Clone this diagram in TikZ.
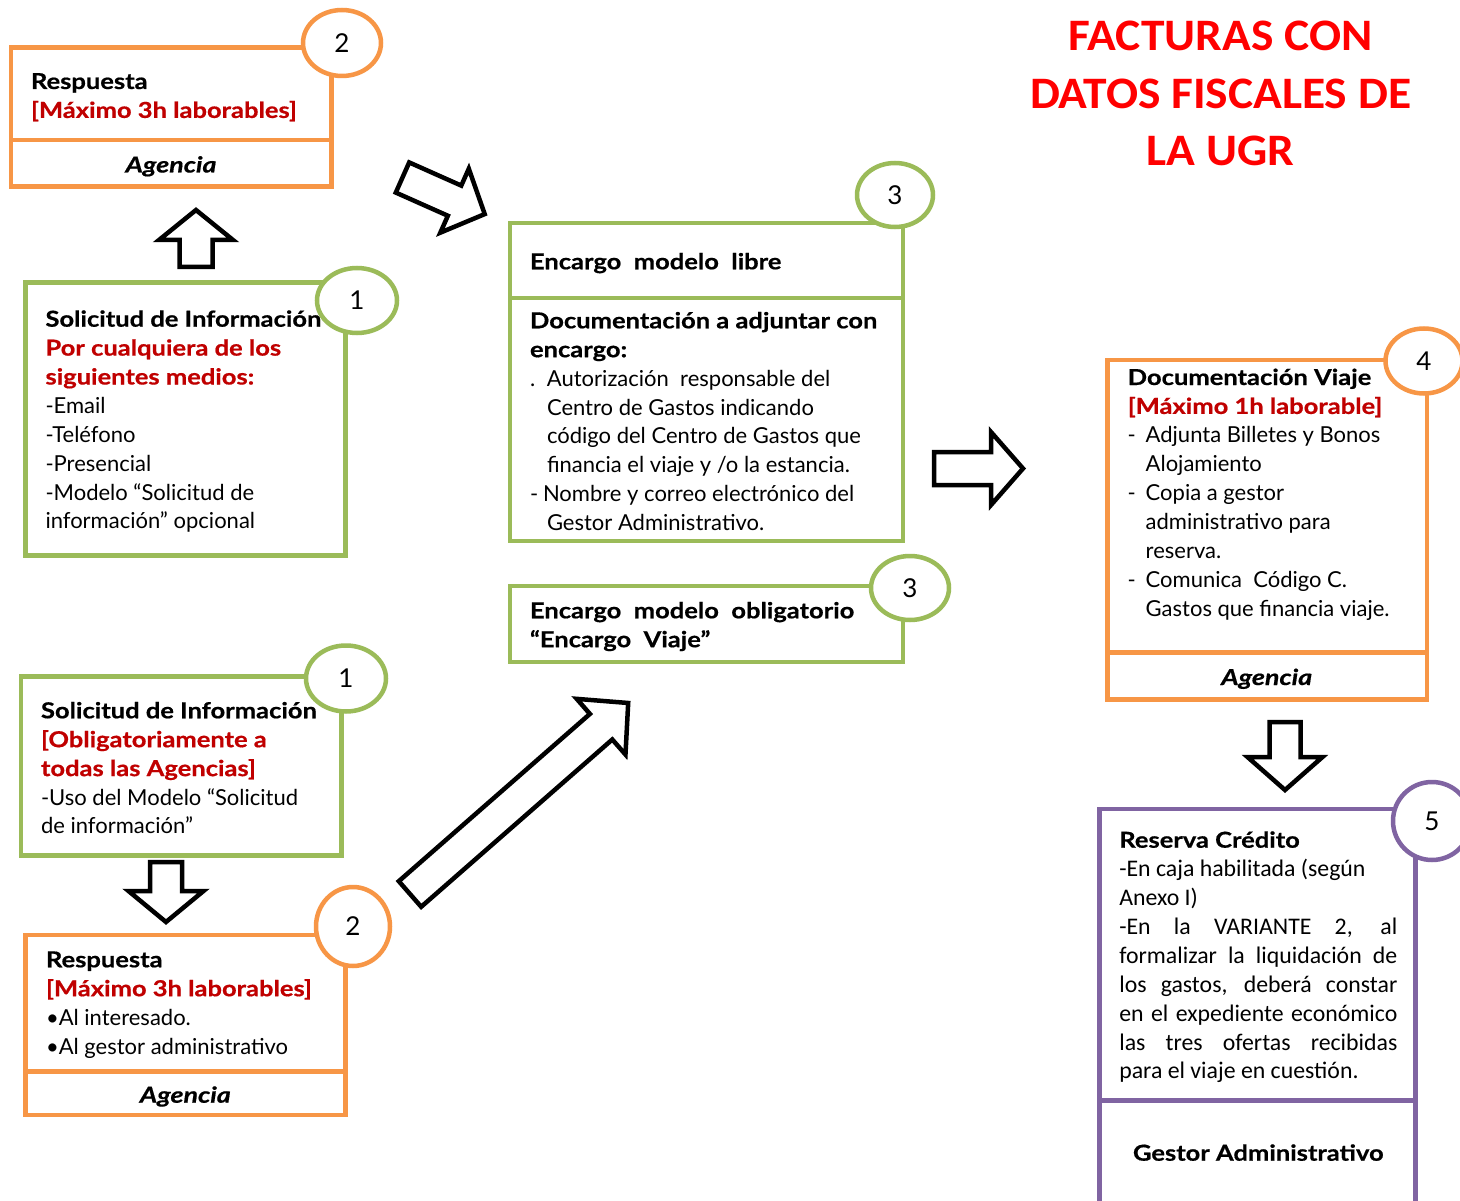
\documentclass[tikz,border=0pt]{standalone}
\usepackage{fontspec}
\setmainfont{Lato}[BoldFeatures={FakeStretch=1.16,FakeBold=0.6},BoldItalicFeatures={FakeStretch=1.22,FakeBold=0.6}]
\newfontfamily\calibri{Carlito}
\newfontfamily\calibriW{Carlito}[FakeStretch=1.055]
\usetikzlibrary{shapes.geometric}
\definecolor{orng}{HTML}{F79646}
\definecolor{grn}{HTML}{9BBB59}
\definecolor{purp}{HTML}{8064A2}
\definecolor{dred}{HTML}{C00000}
\definecolor{tred}{HTML}{FF0000}
\tikzset{
  box/.style={draw, line width=4.5pt, rectangle, inner sep=0pt, outer sep=0pt},
  obox/.style={box, draw=orng},
  gbox/.style={box, draw=grn},
  pbox/.style={box, draw=purp},
  numc/.style={ellipse, draw, fill=white, line width=4.5pt, inner sep=0pt, font=\fontsize{26}{30}\selectfont},
  txt/.style={inner sep=0pt, outer sep=0pt, anchor=base west, font=\fontsize{22}{28.9}\selectfont},
  ctxt/.style={inner sep=0pt, outer sep=0pt, anchor=base, font=\fontsize{22}{28.9}\selectfont},
  blockarrow/.style={draw=black, fill=white, line width=4.5pt, line join=miter},
}
% #1 tail coordinate name, #2 angle, #3 length, #4 half shaft, #5 half head, #6 head length
\newcommand\blockarr[6]{\draw[blockarrow, shift={(#1)}, rotate=#2]
  (0,-#4) -- ({#3-#6},-#4) -- ({#3-#6},-#5) -- (#3,0) -- ({#3-#6},#5) -- ({#3-#6},#4) -- (0,#4) -- cycle;}
\begin{document}
\begin{tikzpicture}[x=1pt,y=-1pt]
\useasboundingbox (0,0) rectangle (1460,1201);
\clip (0,0) rectangle (1460,1201);
\fill[white] (0,0) rectangle (1460,1201);

% boxes
\node[obox, minimum width=320.5pt, minimum height=92.5pt] (A1) at (171.25,93.75) {};
\node[obox, minimum width=320.5pt, minimum height=46.5pt] (A2) at (171.25,163.25) {};
\node[gbox, minimum width=320pt, minimum height=273pt] (B) at (185.5,419) {};
\node[gbox, minimum width=393pt, minimum height=75pt] (C1) at (706.5,260.5) {};
\node[gbox, minimum width=393pt, minimum height=243pt] (C2) at (706.5,419.5) {};
\node[gbox, minimum width=393pt, minimum height=76pt] (D) at (706.5,624) {};
\node[obox, minimum width=319.5pt, minimum height=292.5pt] (E1) at (1267.25,506.25) {};
\node[obox, minimum width=319.5pt, minimum height=47pt] (E2) at (1267.25,676) {};
\node[pbox, minimum width=316pt, minimum height=291.5pt] (F1) at (1257.5,954.75) {};
\node[pbox, minimum width=316pt, minimum height=114.5pt] (F2) at (1257.5,1157.75) {};
\node[gbox, minimum width=320.7pt, minimum height=179pt] (G) at (181.15,766) {};
\node[obox, minimum width=320pt, minimum height=136.5pt] (H1) at (185.5,1003.25) {};
\node[obox, minimum width=320pt, minimum height=43.5pt] (H2) at (185.5,1093.25) {};

% number circles
\node[numc, draw=orng, minimum width=78pt, minimum height=66pt] (cA) at (342,43) {2};
\node[numc, draw=grn, minimum width=80pt, minimum height=65pt] (cB) at (357,300.5) {1};
\node[numc, draw=grn, minimum width=76pt, minimum height=64pt] (cC) at (895,195) {3};
\node[numc, draw=grn, minimum width=78pt, minimum height=64pt] (cD) at (910,588) {3};
\node[numc, draw=orng, minimum width=77pt, minimum height=65pt] (cE) at (1424,361) {4};
\node[numc, draw=purp, minimum width=78pt, minimum height=78pt] (cF) at (1432,821) {5};
\node[numc, draw=grn, minimum width=80pt, minimum height=66pt] (cG) at (346,678.5) {1};
\node[numc, draw=orng, minimum width=74pt, minimum height=79pt] (cH) at (353,926.5) {2};

% block arrows
\coordinate (a1) at (196,267);
\coordinate (a2) at (402.5,177.5);
\coordinate (a3) at (934,468.5);
\coordinate (a4) at (410,894);
\coordinate (a5) at (166,862);
\coordinate (a6) at (1285,722);
\blockarr{a1}{90}{57}{16.5}{37}{30}
\blockarr{a2}{-24}{90}{16.5}{35}{33}
\blockarr{a3}{0}{89}{16.5}{36.5}{32}
\blockarr{a4}{41.2}{290}{17}{37}{36}
\blockarr{a5}{-90}{60}{16}{37.5}{31}
\blockarr{a6}{-90}{68}{15.5}{37.5}{33}

% texts
\node[txt] (tA) at (31,89) {\parbox[t]{300pt}{\bfseries Respuesta\\ \color{dred}[Máximo 3h laborables]}};
\node[ctxt] (tA2) at (171,172.5) {\bfseries\itshape Agencia};

\node[txt] (tB) at (45.5,326.7) {\parbox[t]{300pt}{{\bfseries Solicitud de Información}\\
{\bfseries\color{dred}Por cualquiera de los}\\
{\bfseries\color{dred}siguientes medios:}\\
-Email\\
-Teléfono\\
-Presencial\\
-Modelo “Solicitud de\\
información” opcional}};

\node[txt] (tC1) at (530,269.3) {\bfseries Encargo\ \ modelo\ \ libre};
\node[txt] (tC2) at (530,328.3) {\parbox[t]{370pt}{{\bfseries Documentación a adjuntar con}\\
{\bfseries encargo:}\\
\makebox[17pt][l]{.}Autorización\ \ responsable del\\
\hspace*{17pt}Centro de Gastos indicando\\
\hspace*{17pt}código del Centro de Gastos que\\
\hspace*{17pt}financia el viaje y /o la estancia.\\
\makebox[13pt][l]{-}Nombre y correo electrónico del\\
\hspace*{17pt}Gestor Administrativo.}};

\node[txt] (tD) at (530,618.3) {\parbox[t]{370pt}{\bfseries Encargo\ \ modelo\ \ obligatorio\\
“Encargo\ \ Viaje”}};

\node[txt] (tE) at (1127.7,385) {\parbox[t]{300pt}{{\bfseries Documentación Viaje}\\
{\bfseries\color{dred}[Máximo 1h laborable]}\\
\makebox[18pt][l]{-}Adjunta Billetes y Bonos\\
\hspace*{18pt}Alojamiento\\
\makebox[18pt][l]{-}Copia a gestor\\
\hspace*{18pt}administrativo para\\
\hspace*{18pt}reserva.\\
\makebox[18pt][l]{-}Comunica\ \ Código C.\\
\hspace*{18pt}Gastos que financia viaje.}};
\node[ctxt] (tE2) at (1266.7,685) {\bfseries\itshape Agencia};

\node[txt] (tF) at (1119.3,847.7) {\parbox[t]{278pt}{{\bfseries Reserva Crédito}\\
\calibri\fontsize{23.8}{28.9}\selectfont -En caja habilitada (según\\
Anexo I)\\
-En la VARIANTE 2, al\linebreak
formalizar la liquidación de\linebreak
los gastos, deberá constar\linebreak
en el expediente económico\linebreak
las tres ofertas recibidas\linebreak
para el viaje en cuestión.}};
\node[ctxt] (tF2) at (1258.3,1160.7) {\bfseries Gestor Administrativo};

\node[txt] (tG) at (41,718.3) {\parbox[t]{300pt}{{\bfseries Solicitud de Información}\\
{\bfseries\color{dred}[Obligatoriamente a}\\
{\bfseries\color{dred}todas las Agencias]}\\
-Uso del Modelo “Solicitud\\
de información”}};

\node[txt] (tH) at (46,967.3) {\parbox[t]{300pt}{{\bfseries Respuesta}\\
{\bfseries\color{dred}[Máximo 3h laborables]}\\
•Al interesado.\\
•Al gestor administrativo}};
\node[ctxt] (tH2) at (185.3,1102.7) {\bfseries\itshape Agencia};

\node[ctxt, font=\calibriW\bfseries\fontsize{45}{57.5}\selectfont, text=tred] (title) at (1220.6,50.7)
  {\parbox[t]{460pt}{\centering FACTURAS CON\\ DATOS FISCALES DE\\ LA UGR}};
\end{tikzpicture}
\end{document}
